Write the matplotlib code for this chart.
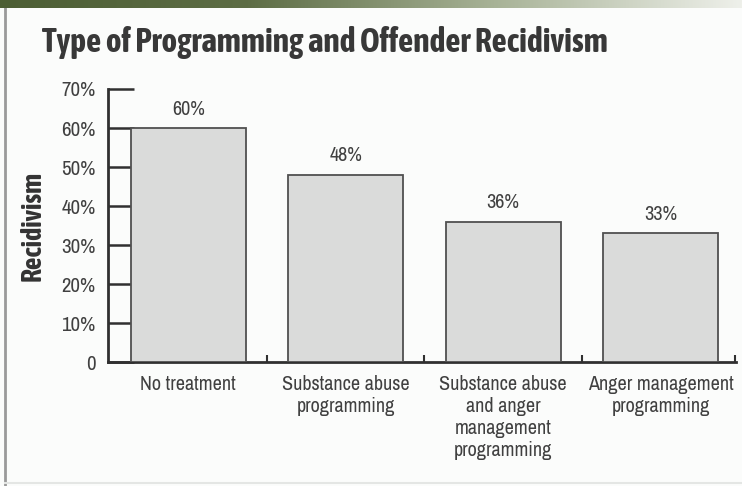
import numpy as np
import matplotlib
matplotlib.use("Agg")
import matplotlib.pyplot as plt
from matplotlib.ticker import FixedLocator
from matplotlib.colors import LinearSegmentedColormap
from matplotlib import font_manager

# prefer a narrow/condensed sans that also ships a bold face
fonts = font_manager.fontManager.ttflist
narrow = sorted({f.name for f in fonts if "Narrow" in f.name or "Condensed" in f.name})
def weights(name):
    out = set()
    for f in fonts:
        if f.name == name:
            w = f.weight
            if isinstance(w, str):
                w = 700 if "bold" in w.lower() else 400
            out.add(w)
    return out
bold_ok = [n for n in narrow if any(w >= 600 for w in weights(n))]
reg_font = narrow[0] if narrow else "Roboto"
bold_font = bold_ok[0] if bold_ok else reg_font
plt.rcParams['font.family'] = [reg_font, 'Roboto', 'DejaVu Sans']

categories = ["No treatment", "Substance abuse\nprogramming",
              "Substance abuse\nand anger\nmanagement\nprogramming",
              "Anger management\nprogramming"]
recidivism = [60, 48, 36, 33]
y_ticks = [0, 10, 20, 30, 40, 50, 60, 70]
y_tick_labels = ["0", "10%", "20%", "30%", "40%", "50%", "60%", "70%"]
title = "Type of Programming and Offender Recidivism"

W, H = 742, 486
fig = plt.figure(figsize=(W / 100, H / 100), dpi=100)
fig.patch.set_facecolor("#fbfcfb")

# header band with a green gradient
band = fig.add_axes([0, 1 - 8 / H, 1, 8 / H])
grad = np.linspace(0, 1, 256).reshape(1, -1)
cmap = LinearSegmentedColormap.from_list("hdr", ["#4c5e34", "#5d6d45", "#a7b296", "#eef0ea"])
band.imshow(grad, aspect="auto", cmap=cmap, extent=[0, 1, 0, 1])
band.axis("off")

# left frame rule
frame = fig.add_axes([0, 0, 1, 1 - 8 / H], facecolor="none")
frame.set_xlim(0, W)
frame.set_ylim(0, H - 8)
frame.plot([5, 5], [0, H - 8], color="#9a9a9a", lw=2)
frame.plot([5, W], [3, 3], color="#e4e6e4", lw=1.5)
frame.axis("off")

left, right = 108, 736
top, bottom = 89, 362
ax = fig.add_axes([left / W, 1 - bottom / H, (right - left) / W, (bottom - top) / H])
ax.set_facecolor("none")

fs = 14.5
tc = "#404040"
x = np.arange(len(categories))
ax.bar(x, recidivism, width=0.73, color="#dadbda", edgecolor="#505050", linewidth=1.3, zorder=3)
for xi, v in zip(x, recidivism):
    ax.text(xi, v + 2.4, f"{v}%", ha="center", va="bottom", fontsize=fs, color=tc)

ax.set_xlim(-0.51, 3.48)
ax.set_ylim(0, 70)

ax.set_yticks(y_ticks)
ax.set_yticklabels(y_tick_labels, fontsize=15, color=tc)
ax.tick_params(axis="y", direction="in", length=19, width=1.8, color="#303030", pad=9)

ax.set_xticks(x)
ax.set_xticklabels(categories, fontsize=fs, color=tc, linespacing=1.2, va="top")
ax.tick_params(axis="x", length=0, pad=9)
ax.xaxis.set_minor_locator(FixedLocator([0.5, 1.5, 2.5, 3.475]))
ax.tick_params(axis="x", which="minor", direction="in", length=5, width=1.5, color="#303030")

for s in ["top", "right"]:
    ax.spines[s].set_visible(False)
for s in ["left", "bottom"]:
    ax.spines[s].set_color("#303030")
    ax.spines[s].set_linewidth(2)

ax.set_ylabel("Recidivism", fontsize=20, fontweight="bold", color="#333333",
              family=[bold_font, 'Roboto', 'DejaVu Sans'])
ax.yaxis.set_label_coords(-0.097, 0.5)

fig.text(42 / W, 1 - 52 / H, title, fontsize=24, fontweight="bold", color="#383838",
         ha="left", va="baseline", family=[bold_font, 'Roboto', 'DejaVu Sans'])

fig.savefig("out.png", dpi=100, facecolor=fig.get_facecolor())
